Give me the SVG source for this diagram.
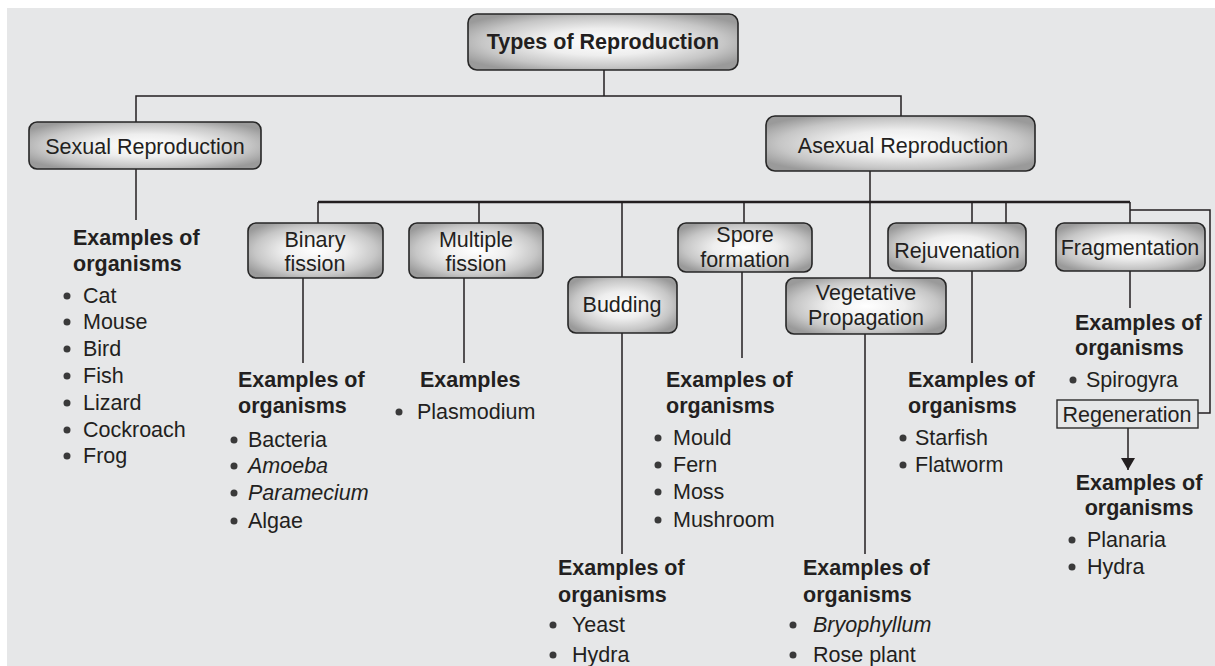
<svg xmlns="http://www.w3.org/2000/svg" width="1215" height="666" viewBox="0 0 1215 666">
  <defs>
    <radialGradient id="boxFill" cx="50%" cy="50%" r="60%">
      <stop offset="0" stop-color="#ffffff"/>
      <stop offset="0.4" stop-color="#eeeeee"/>
      <stop offset="0.75" stop-color="#c6c6c6"/>
      <stop offset="1" stop-color="#9a9a9a"/>
    </radialGradient>
    <marker id="arrowHead" viewBox="0 0 12 14" refX="12" refY="7" markerWidth="12" markerHeight="14" markerUnits="userSpaceOnUse" orient="auto">
      <path d="M0,0 L12,7 L0,14 Z" fill="#231f20"/>
    </marker>
  </defs>
  <style>
    .box { fill: url(#boxFill); stroke: #262626; stroke-width: 1.6; }
    .plain { fill: none; stroke: #2b2b2b; stroke-width: 1.4; }
    .wire { fill: none; stroke: #231f20; stroke-width: 1.5; }
    .bus { fill: none; stroke: #231f20; stroke-width: 2.6; }
    text { font-family: "Liberation Sans", Arial, sans-serif; font-size: 21.5px; fill: #231f20; }
    .c { text-anchor: middle; }
    .b { font-weight: bold; }
    .i { font-style: italic; }
    .dot { fill: #3a3a3a; }
  </style>

  <!-- page panel -->
  <rect x="7" y="8" width="1208" height="658" fill="#e6e7e8"/>

  <!-- connectors -->
  <g id="connectors">
    <path class="wire" d="M604,70 V96 M136,122 V96 H901 V116"/>
    <path class="wire" d="M136,169 V220"/>
    <path class="wire" d="M870,171 V278"/>
    <path class="bus" d="M318,202 H1130"/>
    <path class="wire" d="M318,202 V223 M479,202 V223 M622,202 V277 M744,202 V223 M972,202 V223 M1006,202 V223 M1130,202 V223"/>
    <path class="wire" d="M1130,210 H1210 V413 H1198"/>
    <path class="wire" d="M303,278 V363 M464,278 V363 M622,333 V554 M742,272 V358 M865,334 V554 M972,271 V363 M1130,271 V308"/>
    <path class="wire" d="M1128,428 V470" marker-end="url(#arrowHead)"/>
  </g>

  <g id="types-of-reproduction">
    <rect class="box" x="468" y="14" width="270" height="56" rx="9"/>
    <text class="c b" x="603" y="49">Types of Reproduction</text>
  </g>

  <g id="sexual-reproduction">
    <rect class="box" x="29" y="122" width="232" height="47" rx="8"/>
    <text class="c" x="145" y="154">Sexual Reproduction</text>
  </g>

  <g id="asexual-reproduction">
    <rect class="box" x="766" y="116" width="269" height="55" rx="9"/>
    <text class="c" x="903" y="153">Asexual Reproduction</text>
  </g>

  <g id="sexual-examples">
    <text class="b" x="73" y="245">Examples of</text>
    <text class="b" x="73" y="271">organisms</text>
    <circle class="dot" cx="67" cy="296" r="3.5"/><text x="83" y="303">Cat</text>
    <circle class="dot" cx="67" cy="322" r="3.5"/><text x="83" y="329">Mouse</text>
    <circle class="dot" cx="67" cy="349" r="3.5"/><text x="83" y="356">Bird</text>
    <circle class="dot" cx="67" cy="376" r="3.5"/><text x="83" y="383">Fish</text>
    <circle class="dot" cx="67" cy="403" r="3.5"/><text x="83" y="410">Lizard</text>
    <circle class="dot" cx="67" cy="430" r="3.5"/><text x="83" y="437">Cockroach</text>
    <circle class="dot" cx="67" cy="456" r="3.5"/><text x="83" y="463">Frog</text>
  </g>

  <g id="binary-fission">
    <rect class="box" x="248" y="223" width="135" height="55" rx="8"/>
    <text class="c" x="315" y="247">Binary</text>
    <text class="c" x="315" y="271">fission</text>
    <text class="b" x="238" y="387">Examples of</text>
    <text class="b" x="238" y="413">organisms</text>
    <circle class="dot" cx="234" cy="440" r="3.5"/><text x="248" y="447">Bacteria</text>
    <circle class="dot" cx="234" cy="466" r="3.5"/><text class="i" x="248" y="473">Amoeba</text>
    <circle class="dot" cx="234" cy="493" r="3.5"/><text class="i" x="248" y="500">Paramecium</text>
    <circle class="dot" cx="234" cy="521" r="3.5"/><text x="248" y="528">Algae</text>
  </g>

  <g id="multiple-fission">
    <rect class="box" x="409" y="223" width="134" height="55" rx="8"/>
    <text class="c" x="476" y="247">Multiple</text>
    <text class="c" x="476" y="271">fission</text>
    <text class="b" x="420" y="387">Examples</text>
    <circle class="dot" cx="399" cy="412" r="3.5"/><text x="417" y="419">Plasmodium</text>
  </g>

  <g id="budding">
    <rect class="box" x="568" y="277" width="109" height="56" rx="8"/>
    <text class="c" x="622" y="312">Budding</text>
    <text class="b" x="558" y="575">Examples of</text>
    <text class="b" x="558" y="602">organisms</text>
    <circle class="dot" cx="553" cy="625" r="3.5"/><text x="572" y="632">Yeast</text>
    <circle class="dot" cx="553" cy="655" r="3.5"/><text x="572" y="662">Hydra</text>
  </g>

  <g id="spore-formation">
    <rect class="box" x="678" y="223" width="134" height="49" rx="8"/>
    <text class="c" x="745" y="242">Spore</text>
    <text class="c" x="745" y="267">formation</text>
    <text class="b" x="666" y="387">Examples of</text>
    <text class="b" x="666" y="413">organisms</text>
    <circle class="dot" cx="658" cy="438" r="3.5"/><text x="673" y="445">Mould</text>
    <circle class="dot" cx="658" cy="465" r="3.5"/><text x="673" y="472">Fern</text>
    <circle class="dot" cx="658" cy="492" r="3.5"/><text x="673" y="499">Moss</text>
    <circle class="dot" cx="658" cy="520" r="3.5"/><text x="673" y="527">Mushroom</text>
  </g>

  <g id="vegetative-propagation">
    <rect class="box" x="786" y="278" width="160" height="56" rx="8"/>
    <text class="c" x="866" y="300">Vegetative</text>
    <text class="c" x="866" y="325">Propagation</text>
    <text class="b" x="803" y="575">Examples of</text>
    <text class="b" x="803" y="602">organisms</text>
    <circle class="dot" cx="793" cy="625" r="3.5"/><text class="i" x="813" y="632">Bryophyllum</text>
    <circle class="dot" cx="793" cy="655" r="3.5"/><text x="813" y="662">Rose plant</text>
  </g>

  <g id="rejuvenation">
    <rect class="box" x="888" y="223" width="138" height="48" rx="8"/>
    <text class="c" x="957" y="258">Rejuvenation</text>
    <text class="b" x="908" y="387">Examples of</text>
    <text class="b" x="908" y="413">organisms</text>
    <circle class="dot" cx="903" cy="438" r="3.5"/><text x="915" y="445">Starfish</text>
    <circle class="dot" cx="903" cy="465" r="3.5"/><text x="915" y="472">Flatworm</text>
  </g>

  <g id="fragmentation">
    <rect class="box" x="1056" y="223" width="149" height="48" rx="8"/>
    <text class="c" x="1130" y="255">Fragmentation</text>
    <text class="b" x="1075" y="330">Examples of</text>
    <text class="b" x="1075" y="355">organisms</text>
    <circle class="dot" cx="1073" cy="380" r="3.5"/><text x="1086" y="387">Spirogyra</text>
  </g>

  <g id="regeneration">
    <rect class="plain" x="1057" y="400" width="141" height="28"/>
    <text class="c" x="1127" y="422">Regeneration</text>
    <text class="b c" x="1139" y="490">Examples of</text>
    <text class="b c" x="1139" y="515">organisms</text>
    <circle class="dot" cx="1072" cy="540" r="3.5"/><text x="1087" y="547">Planaria</text>
    <circle class="dot" cx="1072" cy="567" r="3.5"/><text x="1087" y="574">Hydra</text>
  </g>
</svg>
